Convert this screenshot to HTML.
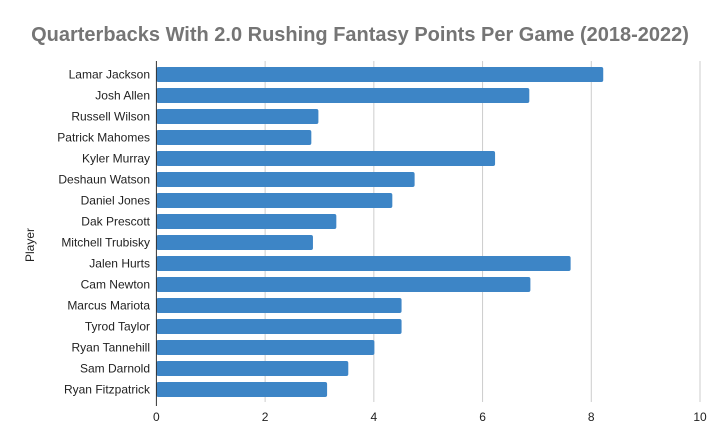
<!DOCTYPE html>
<html><head><meta charset="utf-8"><style>
body{margin:0;background:#fff;font-family:"Liberation Sans",Arial,sans-serif}
svg{display:block}
</style></head><body>
<svg id="chart" width="720" height="446">
<rect width="720" height="446" fill="#fff"/>
<text x="360" y="41" text-anchor="middle" font-size="20" font-weight="bold" fill="#757575">Quarterbacks With 2.0 Rushing Fantasy Points Per Game (2018-2022)</text>
<text transform="translate(34,245) rotate(-90)" text-anchor="middle" font-size="12" fill="#222">Player</text>
<g id="grid"></g><g id="bars"></g><g id="labels"></g><g id="ticks"></g>
</svg>
<script>
const players=["Lamar Jackson","Josh Allen","Russell Wilson","Patrick Mahomes","Kyler Murray","Deshaun Watson","Daniel Jones","Dak Prescott","Mitchell Trubisky","Jalen Hurts","Cam Newton","Marcus Mariota","Tyrod Taylor","Ryan Tannehill","Sam Darnold","Ryan Fitzpatrick"];
const points=[8.22,6.86,2.98,2.85,6.23,4.75,4.34,3.31,2.88,7.62,6.88,4.51,4.51,4.01,3.53,3.14];
const xTicks=[0,2,4,6,8,10];
const NS="http://www.w3.org/2000/svg";
const x0=156.4,x1=700,plotTop=64,step=21,barH=15;
const xs=v=>x0+(v-0)/(10-0)*(x1-x0);
const yc=i=>plotTop+step/2+i*step;
function mk(t,a,p){const e=document.createElementNS(NS,t);for(const k in a)e.setAttribute(k,a[k]);p.appendChild(e);return e;}
const g=document.getElementById('grid'),b=document.getElementById('bars'),l=document.getElementById('labels'),tk=document.getElementById('ticks');
xTicks.forEach(v=>{
  if(v!==0){const ln=mk('line',{x1:xs(v),x2:xs(v),y1:61,y2:402,stroke:'#ccc','stroke-width':1},g);
  
  }
  const t=mk('text',{x:xs(v),y:421,'text-anchor':'middle','font-size':12,fill:'#222'},tk);
  t.textContent=v;
  
  
});
players.forEach((p,i)=>{
  const r=mk('rect',{x:x0,y:yc(i)-barH/2,width:xs(points[i])-x0,height:barH,fill:'#3d85c6',rx:2},b);
  
  
  const t=mk('text',{x:150,y:yc(i)+4,'text-anchor':'end','font-size':12,fill:'#222'},l);
  t.textContent=p;
  
  
});
const ax=mk('line',{x1:x0,x2:x0,y1:61,y2:406,stroke:'#333','stroke-width':1},tk);


</script>
</body></html>
